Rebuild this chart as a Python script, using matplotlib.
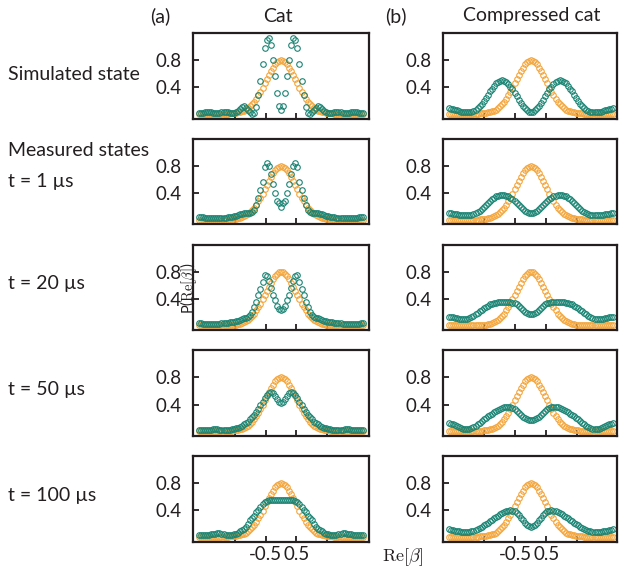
import matplotlib
matplotlib.use("Agg")
import matplotlib.pyplot as plt
import numpy as np

plt.rcParams["font.family"] = ["Lato", "DejaVu Sans"]
plt.rcParams["mathtext.fontset"] = "cm"

# sample grid along Re[beta]
re_beta = np.linspace(-2.65, 2.65, 81)

# reference (vacuum) distribution, same in every panel
vacuum = [
    0.01, 0.01, 0.01, 0.01, 0.01, 0.01, 0.01, 0.01, 0.01, 0.01,
    0.01, 0.01, 0.01, 0.01, 0.01, 0.015, 0.015, 0.02, 0.02, 0.03,
    0.035, 0.045, 0.055, 0.07, 0.09, 0.12, 0.15, 0.18, 0.23, 0.28,
    0.33, 0.39, 0.46, 0.52, 0.58, 0.64, 0.69, 0.74, 0.77, 0.79,
    0.80,
    0.79, 0.77, 0.74, 0.69, 0.64, 0.58, 0.52, 0.46, 0.39, 0.33,
    0.28, 0.23, 0.18, 0.15, 0.12, 0.09, 0.07, 0.055, 0.045, 0.035,
    0.03, 0.02, 0.02, 0.015, 0.015, 0.01, 0.01, 0.01, 0.01, 0.01,
    0.01, 0.01, 0.01, 0.01, 0.01, 0.01, 0.01, 0.01, 0.01, 0.01,
]

# cat state: simulated, then measured at 1, 20, 50, 100 us
cat_sim = [
    0.02, 0.02, 0.025, 0.03, 0.035, 0.035, 0.03, 0.025, 0.02, 0.02,
    0.025, 0.035, 0.04, 0.04, 0.035, 0.025, 0.02, 0.02, 0.03, 0.05,
    0.08, 0.11, 0.12, 0.10, 0.06, 0.03, 0.01, 0.02, 0.11, 0.29,
    0.50, 0.75, 0.98, 1.10, 1.13, 1.02, 0.80, 0.56, 0.31, 0.12,
    0.06,
    0.12, 0.31, 0.56, 0.80, 1.02, 1.13, 1.10, 0.98, 0.75, 0.50,
    0.29, 0.11, 0.02, 0.01, 0.03, 0.06, 0.10, 0.12, 0.11, 0.08,
    0.05, 0.03, 0.02, 0.02, 0.025, 0.035, 0.04, 0.04, 0.035, 0.025,
    0.02, 0.02, 0.025, 0.03, 0.035, 0.035, 0.03, 0.025, 0.02, 0.02,
]
cat_1us = [
    0.04, 0.04, 0.04, 0.035, 0.035, 0.035, 0.035, 0.03, 0.03, 0.03,
    0.03, 0.03, 0.03, 0.035, 0.04, 0.045, 0.05, 0.055, 0.065, 0.075,
    0.085, 0.09, 0.10, 0.10, 0.10, 0.11, 0.12, 0.15, 0.22, 0.32,
    0.45, 0.56, 0.78, 0.85, 0.80, 0.68, 0.54, 0.40, 0.29, 0.25,
    0.20,
    0.25, 0.29, 0.40, 0.54, 0.68, 0.80, 0.85, 0.78, 0.56, 0.45,
    0.32, 0.22, 0.15, 0.12, 0.11, 0.10, 0.10, 0.10, 0.09, 0.085,
    0.075, 0.065, 0.055, 0.05, 0.045, 0.04, 0.035, 0.03, 0.03, 0.03,
    0.03, 0.03, 0.03, 0.035, 0.035, 0.035, 0.035, 0.04, 0.04, 0.04,
]
cat_20us = [
    0.04, 0.04, 0.035, 0.035, 0.03, 0.03, 0.03, 0.03, 0.03, 0.035,
    0.035, 0.04, 0.04, 0.045, 0.05, 0.055, 0.06, 0.065, 0.07, 0.08,
    0.09, 0.10, 0.11, 0.12, 0.13, 0.16, 0.21, 0.28, 0.36, 0.45,
    0.55, 0.65, 0.75, 0.73, 0.66, 0.56, 0.46, 0.38, 0.30, 0.25,
    0.23,
    0.25, 0.30, 0.38, 0.46, 0.56, 0.66, 0.73, 0.75, 0.65, 0.55,
    0.45, 0.36, 0.28, 0.21, 0.16, 0.13, 0.12, 0.11, 0.10, 0.09,
    0.08, 0.07, 0.065, 0.06, 0.055, 0.05, 0.045, 0.04, 0.04, 0.035,
    0.035, 0.03, 0.03, 0.03, 0.03, 0.03, 0.035, 0.035, 0.04, 0.04,
]
cat_50us = [
    0.025, 0.025, 0.025, 0.025, 0.025, 0.03, 0.03, 0.035, 0.035, 0.035,
    0.03, 0.03, 0.025, 0.025, 0.025, 0.03, 0.035, 0.04, 0.05, 0.06,
    0.075, 0.09, 0.11, 0.13, 0.15, 0.18, 0.21, 0.25, 0.29, 0.34,
    0.39, 0.44, 0.49, 0.54, 0.575, 0.59, 0.57, 0.53, 0.48, 0.44,
    0.42,
    0.44, 0.48, 0.53, 0.57, 0.59, 0.575, 0.54, 0.49, 0.44, 0.39,
    0.34, 0.29, 0.25, 0.21, 0.18, 0.15, 0.13, 0.11, 0.09, 0.075,
    0.06, 0.05, 0.04, 0.035, 0.03, 0.025, 0.025, 0.025, 0.03, 0.03,
    0.035, 0.035, 0.035, 0.03, 0.03, 0.025, 0.025, 0.025, 0.025, 0.025,
]
cat_100us = [
    0.035, 0.035, 0.035, 0.035, 0.035, 0.04, 0.045, 0.05, 0.055, 0.06,
    0.06, 0.055, 0.05, 0.04, 0.035, 0.035, 0.04, 0.045, 0.055, 0.07,
    0.09, 0.11, 0.13, 0.16, 0.20, 0.25, 0.29, 0.32, 0.37, 0.41,
    0.45, 0.49, 0.52, 0.535, 0.545, 0.55, 0.55, 0.55, 0.55, 0.55,
    0.55,
    0.55, 0.55, 0.55, 0.55, 0.55, 0.545, 0.535, 0.52, 0.49, 0.45,
    0.41, 0.37, 0.32, 0.29, 0.25, 0.20, 0.16, 0.13, 0.11, 0.09,
    0.07, 0.055, 0.045, 0.04, 0.035, 0.035, 0.04, 0.05, 0.055, 0.06,
    0.06, 0.055, 0.05, 0.045, 0.04, 0.035, 0.035, 0.035, 0.035, 0.035,
]

# compressed cat state: simulated, then measured at 1, 20, 50, 100 us
ccat_sim = [
    0.09, 0.085, 0.08, 0.07, 0.06, 0.05, 0.04, 0.035, 0.03, 0.03,
    0.03, 0.04, 0.05, 0.07, 0.09, 0.12, 0.16, 0.20, 0.24, 0.29,
    0.34, 0.38, 0.42, 0.46, 0.48, 0.50, 0.51, 0.50, 0.48, 0.45,
    0.41, 0.37, 0.32, 0.27, 0.22, 0.17, 0.13, 0.09, 0.06, 0.04,
    0.03,
    0.04, 0.06, 0.09, 0.13, 0.17, 0.22, 0.27, 0.32, 0.37, 0.41,
    0.45, 0.48, 0.50, 0.51, 0.50, 0.48, 0.46, 0.42, 0.38, 0.34,
    0.29, 0.24, 0.20, 0.16, 0.12, 0.09, 0.07, 0.05, 0.04, 0.03,
    0.03, 0.03, 0.035, 0.04, 0.05, 0.06, 0.07, 0.08, 0.085, 0.09,
]
ccat_1us = [
    0.10, 0.10, 0.095, 0.09, 0.085, 0.08, 0.075, 0.07, 0.07, 0.07,
    0.075, 0.08, 0.09, 0.10, 0.12, 0.14, 0.17, 0.20, 0.23, 0.26,
    0.29, 0.31, 0.33, 0.35, 0.36, 0.37, 0.37, 0.37, 0.36, 0.35,
    0.33, 0.31, 0.28, 0.25, 0.22, 0.19, 0.16, 0.14, 0.12, 0.105,
    0.10,
    0.105, 0.12, 0.14, 0.16, 0.19, 0.22, 0.25, 0.28, 0.31, 0.33,
    0.35, 0.36, 0.37, 0.37, 0.37, 0.36, 0.35, 0.33, 0.31, 0.29,
    0.26, 0.23, 0.20, 0.17, 0.14, 0.12, 0.10, 0.09, 0.08, 0.075,
    0.07, 0.07, 0.07, 0.075, 0.08, 0.085, 0.09, 0.095, 0.10, 0.10,
]
ccat_20us = [
    0.135, 0.13, 0.125, 0.12, 0.11, 0.105, 0.10, 0.095, 0.095, 0.10,
    0.11, 0.13, 0.15, 0.17, 0.19, 0.22, 0.24, 0.26, 0.28, 0.30,
    0.32, 0.33, 0.34, 0.345, 0.35, 0.355, 0.355, 0.355, 0.355, 0.355,
    0.35, 0.345, 0.335, 0.32, 0.30, 0.27, 0.24, 0.21, 0.19, 0.175,
    0.17,
    0.175, 0.19, 0.21, 0.24, 0.27, 0.30, 0.32, 0.335, 0.345, 0.35,
    0.355, 0.355, 0.355, 0.355, 0.355, 0.35, 0.345, 0.34, 0.33, 0.32,
    0.30, 0.28, 0.26, 0.24, 0.22, 0.19, 0.17, 0.15, 0.13, 0.11,
    0.10, 0.095, 0.095, 0.10, 0.105, 0.11, 0.12, 0.125, 0.13, 0.135,
]
ccat_50us = [
    0.125, 0.12, 0.11, 0.095, 0.08, 0.065, 0.055, 0.045, 0.04, 0.04,
    0.045, 0.055, 0.07, 0.09, 0.11, 0.135, 0.155, 0.18, 0.20, 0.225,
    0.245, 0.265, 0.285, 0.305, 0.325, 0.34, 0.355, 0.365, 0.37, 0.37,
    0.36, 0.35, 0.33, 0.30, 0.27, 0.24, 0.22, 0.20, 0.18, 0.17,
    0.165,
    0.17, 0.18, 0.20, 0.22, 0.24, 0.27, 0.30, 0.33, 0.35, 0.36,
    0.37, 0.37, 0.365, 0.355, 0.34, 0.325, 0.305, 0.285, 0.265, 0.245,
    0.225, 0.20, 0.18, 0.155, 0.135, 0.11, 0.09, 0.07, 0.055, 0.045,
    0.04, 0.04, 0.045, 0.055, 0.065, 0.08, 0.095, 0.11, 0.12, 0.125,
]
ccat_100us = [
    0.12, 0.115, 0.11, 0.10, 0.095, 0.09, 0.085, 0.08, 0.08, 0.08,
    0.085, 0.09, 0.10, 0.115, 0.13, 0.145, 0.16, 0.18, 0.20, 0.22,
    0.24, 0.26, 0.28, 0.30, 0.32, 0.34, 0.36, 0.375, 0.39, 0.395,
    0.40, 0.395, 0.385, 0.36, 0.33, 0.29, 0.25, 0.21, 0.18, 0.165,
    0.16,
    0.165, 0.18, 0.21, 0.25, 0.29, 0.33, 0.36, 0.385, 0.395, 0.40,
    0.395, 0.39, 0.375, 0.36, 0.34, 0.32, 0.30, 0.28, 0.26, 0.24,
    0.22, 0.20, 0.18, 0.16, 0.145, 0.13, 0.115, 0.10, 0.09, 0.085,
    0.08, 0.08, 0.08, 0.085, 0.09, 0.095, 0.10, 0.11, 0.115, 0.12,
]

cat_rows = [cat_sim, cat_1us, cat_20us, cat_50us, cat_100us]
ccat_rows = [ccat_sim, ccat_1us, ccat_20us, ccat_50us, ccat_100us]
row_labels = [
    [("Simulated state", 75)],
    [("Measured states", 150), ("t = 1 µs", 181)],
    [("t = 20 µs", 284)],
    [("t = 50 µs", 390)],
    [("t = 100 µs", 496)],
]

ORANGE = "#f4a63c"
TEAL = "#1a8474"
INK = "#231f20"
FS = 13.5

W, H = 619, 569
fig = plt.figure(figsize=(W / 100, H / 100), dpi=100)
fig.patch.set_facecolor("white")


def style_axes(ax, bottom_row):
    for s in ax.spines.values():
        s.set_linewidth(1.6)
        s.set_color(INK)
    ax.set_ylim(-0.06, 1.2)
    ax.set_yticks([0.4, 0.8])
    ax.set_yticklabels(["0.4", "0.8"])
    ax.set_xticks([-1.5, -0.5, 0.5, 1.5])
    if bottom_row:
        ax.set_xticklabels(["", "-0.5", "0.5", ""])
    else:
        ax.set_xticklabels([])
    ax.tick_params(direction="in", length=4, width=1.3, color=INK,
                   labelsize=FS, labelcolor=INK, pad=8.5)
    ax.tick_params(axis="x", pad=3)
    ax.tick_params(top=False, right=False)


row_h = 85.5
for r in range(5):
    top_px = 33 + r * 105.75
    bottom = 1 - (top_px + row_h) / H
    axL = fig.add_axes([193 / W, bottom, 176 / W, row_h / H])
    axR = fig.add_axes([443 / W, bottom, 174 / W, row_h / H])
    for ax, teal, xr in ((axL, cat_rows[r], 2.84), (axR, ccat_rows[r], 2.78)):
        ax.plot(re_beta, vacuum, linestyle="none", marker="o", mfc="none",
                mec=ORANGE, ms=4, mew=0.8)
        ax.plot(re_beta, teal, linestyle="none", marker="o", mfc="none",
                mec=TEAL, ms=4, mew=0.8)
        ax.set_xlim(-2.84, xr)
        style_axes(ax, r == 4)
    for text, y in row_labels[r]:
        fig.text(8 / W, 1 - y / H, text, ha="left", va="center",
                 fontsize=14, color=INK)

fig.text(160 / W, 1 - 16 / H, "(a)", ha="center", va="center", fontsize=14, color=INK)
fig.text(278 / W, 1 - 16 / H, "Cat", ha="center", va="center", fontsize=14, color=INK)
fig.text(396 / W, 1 - 16 / H, "(b)", ha="center", va="center", fontsize=14, color=INK)
fig.text(532 / W, 1 - 16 / H, "Compressed cat", ha="center", va="center",
         fontsize=14, color=INK)
fig.text(189 / W, 1 - 288 / H, r"P($\mathrm{Re}[\beta]$)", rotation=90,
         ha="center", va="center", fontsize=10.5, color=INK)
fig.text(403 / W, 1 - 557 / H, r"$\mathrm{Re}[\beta]$", ha="center", va="center",
         fontsize=13, color=INK)

fig.savefig("out.png", dpi=100, facecolor="white")
